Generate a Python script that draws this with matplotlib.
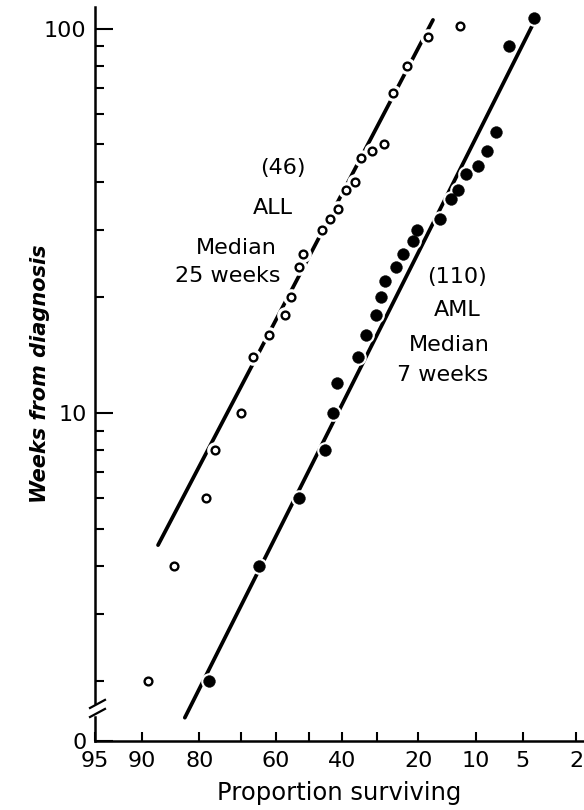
import numpy as np
import matplotlib
matplotlib.use("Agg")
import matplotlib.pyplot as plt
from matplotlib.ticker import FixedLocator, FixedFormatter, NullFormatter
from statistics import NormalDist

# =====================================================
# ALL (open circles): proportion surviving (%) vs weeks from diagnosis
all_pct = [89.2, 85.0, 78.6, 76.5, 70.0, 66.7, 62.0, 57.3, 55.5, 53.0, 51.8, 46.0,
           43.6, 41.2, 38.8, 36.2, 34.5, 31.4, 28.2, 25.9, 22.5, 18.0, 12.3]
all_weeks = [2, 4, 6, 8, 10, 14, 16, 18, 20, 24, 26, 30,
             32, 34, 38, 40, 46, 48, 50, 68, 80, 95, 102]

# AML (filled circles)
aml_pct = [77.9, 65.0, 53.1, 45.1, 42.7, 41.5, 35.3, 33.1, 30.3, 29.0, 27.9, 25.2,
           23.5, 21.2, 20.3, 15.7, 13.7, 12.6, 11.4, 9.7, 8.5, 7.5, 6.2, 4.2]
aml_weeks = [2, 4, 6, 8, 10, 12, 14, 16, 18, 20, 22, 24,
             26, 28, 30, 32, 36, 38, 42, 44, 48, 54, 90, 107]

# fitted lines (end points)
all_fit_pct = [87.7, 17.0]
all_fit_weeks = [4.53, 105.5]
aml_fit_pct = [83.0, 4.1]
aml_fit_weeks = [1.61, 105.5]

x_ticks = [95, 90, 80, 70, 60, 50, 40, 30, 20, 10, 5, 2]
x_labels = ['95', '90', '80', '', '60', '', '40', '', '20', '10', '5', '2']
y_major = [10, 100]
y_major_labels = ['10', '100']
y_minor = [2, 3, 4, 5, 6, 7, 8, 9, 20, 30, 40, 50, 60, 70, 80, 90]

# =====================================================
nd = NormalDist()
ppf = np.vectorize(lambda p: nd.inv_cdf(min(max(p / 100.0, 1e-9), 1 - 1e-9)), otypes=[float])
cdf = np.vectorize(lambda z: 100.0 * nd.cdf(z), otypes=[float])

fig = plt.figure(figsize=(5.84, 8.10), dpi=100)
ax = fig.add_axes([95 / 584, 69 / 810, 489 / 584, 734 / 810])

ax.set_xscale('function', functions=(ppf, cdf))
ax.set_yscale('log')
ax.set_xlim(95, 1.72)
ylo, yhi = 1.40, 114
ax.set_ylim(ylo, yhi)

def frac_to_y(f):
    return ylo * (yhi / ylo) ** f

# fitted lines
ax.plot(all_fit_pct, all_fit_weeks, color='black', lw=2.7, solid_capstyle='round', zorder=2)
ax.plot(aml_fit_pct, aml_fit_weeks, color='black', lw=2.7, solid_capstyle='round', zorder=2)

# white halos break the lines around the points
ax.plot(all_pct, all_weeks, 'o', ms=12, color='white', mew=0, zorder=3)
ax.plot(aml_pct, aml_weeks, 'o', ms=12, color='white', mew=0, zorder=3)

ax.plot(all_pct, all_weeks, 'o', ms=5.6, mfc='white', mec='black', mew=1.7, zorder=4)
ax.plot(aml_pct, aml_weeks, 'o', ms=8.5, mfc='black', mec='black', mew=0.3, zorder=4)

# axes styling
for s in ['top', 'right']:
    ax.spines[s].set_visible(False)
ax.spines['bottom'].set_linewidth(1.8)
ax.spines['left'].set_linewidth(1.8)

# broken y axis
brk_lo, brk_hi = 0.0327, 0.0518
ax.spines['left'].set_bounds(frac_to_y(brk_hi), yhi)
ax.plot([0, 0], [0, brk_lo], transform=ax.transAxes, color='black', lw=1.8, clip_on=False)
for y0 in [0.0327, 0.0450]:
    ax.plot([-0.0102, 0.0204], [y0, y0 + 0.011], transform=ax.transAxes,
            color='black', lw=1.6, clip_on=False)

ax.xaxis.set_major_locator(FixedLocator(x_ticks))
ax.xaxis.set_major_formatter(FixedFormatter(x_labels))
ax.xaxis.set_minor_formatter(NullFormatter())
ax.xaxis.set_minor_locator(FixedLocator([]))

ax.yaxis.set_major_locator(FixedLocator([ylo] + y_major))
ax.yaxis.set_major_formatter(FixedFormatter(['0'] + y_major_labels))
ax.yaxis.set_minor_locator(FixedLocator(y_minor))
ax.yaxis.set_minor_formatter(NullFormatter())

ax.tick_params(axis='x', which='major', direction='in', length=6.5, width=1.5,
               pad=7, labelsize=16)
ax.tick_params(axis='y', which='major', direction='in', length=13, width=1.5,
               pad=6, labelsize=16)
ax.tick_params(axis='y', which='minor', direction='in', length=6.5, width=1.5)

ax.set_xlabel('Proportion surviving', fontsize=17.5)
ax.xaxis.set_label_coords(0.5, -0.054)
ax.set_ylabel('Weeks from diagnosis', fontsize=15, fontweight='bold', fontstyle='italic')
ax.yaxis.set_label_coords(-0.092, 0.5)

# annotations
txt = dict(transform=ax.transAxes, ha='center', va='center', fontsize=16)
ax.text(0.3845, 0.7807, '(46)', **txt)
ax.text(0.364, 0.726, 'ALL', **txt)
ax.text(0.2883, 0.6717, 'Median', **txt)
ax.text(0.272, 0.6335, '25 weeks', **txt)
ax.text(0.7403, 0.6322, '(110)', **txt)
ax.text(0.7403, 0.5872, 'AML', **txt)
ax.text(0.7239, 0.5395, 'Median', **txt)
ax.text(0.7117, 0.4986, '7 weeks', **txt)

plt.savefig('out.png', dpi=100)
plt.close()
